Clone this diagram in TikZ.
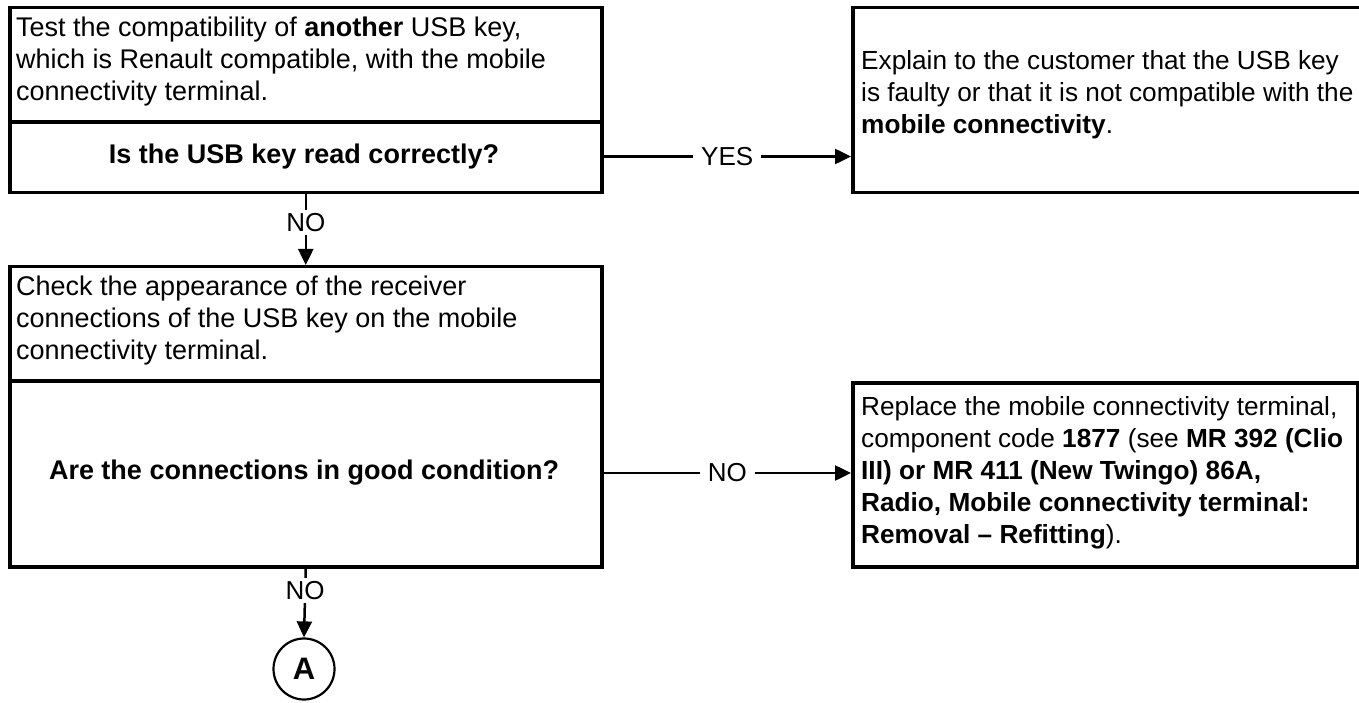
\documentclass[tikz,border=0pt]{standalone}
\usepackage{fontspec}
\setmainfont{Liberation Sans}
\usetikzlibrary{arrows.meta}
\begin{document}
\begin{tikzpicture}[x=1pt,y=-1pt,
  box/.style={draw, line width=3.5pt, inner sep=0pt, anchor=north west},
  txt/.style={font=\fontsize{27}{32}\selectfont, inner sep=0pt, align=left},
  rtxt/.style={font=\fontsize{26.2}{32}\selectfont, inner sep=0pt, align=left},
  qtxt/.style={font=\fontsize{27}{32}\selectfont\bfseries, inner sep=0pt},
  lbl/.style={font=\fontsize{26}{30}\selectfont, fill=white, inner xsep=8pt, inner ysep=3pt},
  conn/.style={line width=2.5pt, -{Triangle[length=16pt,width=15pt]}},
  circ/.style={draw, circle, line width=2.2pt, minimum size=61pt, inner sep=0pt, font=\fontsize{31}{31}\selectfont\bfseries},
]
\useasboundingbox (0,0) rectangle (1359,703);
% boxes
\node[box, minimum width=592pt, minimum height=185pt] (b1) at (8,6) {};
\node[box, minimum width=592pt, minimum height=300pt] (b2) at (8,265) {};
\node[box, minimum width=511pt, minimum height=185pt] (b3) at (851,6) {};
\node[box, minimum width=505pt, minimum height=184pt] (b4) at (851,381) {};
\coordinate (d1) at (0,122);
\coordinate (d2) at (0,381);
\draw[line width=3.5pt] (b1.west |- d1) -- (b1.east |- d1);
\draw[line width=3.5pt] (b2.west |- d2) -- (b2.east |- d2);
% texts
\node[txt, anchor=north west] (t1) at (16,17) {Test the compatibility of \textbf{another} USB key,\\which is Renault compatible, with the mobile\\connectivity terminal.};
\node[qtxt] (q1) at (304,156.5) {Is the USB key read correctly?};
\node[txt, anchor=north west] (t2) at (16,276) {Check the appearance of the receiver\\connections of the USB key on the mobile\\connectivity terminal.};
\node[qtxt] (q2) at (304,473) {Are the connections in good condition?};
\node[rtxt, anchor=west] (t3) at (861,95) {Explain to the customer that the USB key\\is faulty or that it is not compatible with the\\\textbf{mobile connectivity}.};
\node[rtxt, anchor=west] (t4) at (861,473) {Replace the mobile connectivity terminal,\\component code \textbf{1877} (see \textbf{MR 392 (Clio}\\\textbf{III) or MR 411 (New Twingo) 86A,}\\\textbf{Radio, Mobile connectivity terminal:}\\\textbf{Removal -- Refitting}).};
\node[circ] (A) at (304,669) {A};
% connectors
\draw[conn] (b1.east |- q1) -- node[lbl] {YES} (b3.west |- q1);
\draw[conn] (b2.east |- q2) -- node[lbl] {NO} (b4.west |- q2);
\draw[conn] (b1.south) -- node[lbl, pos=0.4, inner xsep=2pt] {NO} (b2.north);
\draw[conn] (b2.south) -- node[lbl, pos=0.32, inner xsep=2pt] {NO} (A.north);
\end{tikzpicture}
\end{document}
